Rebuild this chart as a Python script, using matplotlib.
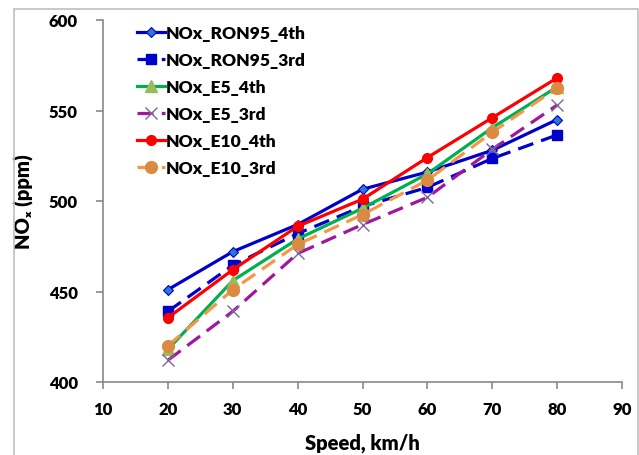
import matplotlib
matplotlib.use("Agg")
import matplotlib.pyplot as plt
from matplotlib.patches import Rectangle

# -----------------------------
# Data
# -----------------------------
speed = [20, 30, 40, 50, 60, 70, 80]
nox_ron95_4th = [451, 472, 487, 506.5, 516, 528, 545]
nox_ron95_3rd = [439, 464.5, 482, 497, 507.5, 523.5, 536.5]
nox_e5_4th = [418, 456, 479, 496, 515, 540.5, 563]
nox_e5_3rd = [412, 439, 471, 487, 502, 528.5, 553]
nox_e10_4th = [435.5, 462, 486, 501, 524, 546, 568]
nox_e10_3rd = [420, 451, 476, 492.5, 511.5, 538, 562.5]

plt.rcParams["font.family"] = ["Lato", "DejaVu Sans"]
W = "heavy"
plt.rcParams["font.weight"] = W

fig = plt.figure(figsize=(6.39, 4.56), dpi=100)
ax = fig.add_axes([103/639, 1 - 383/456, (622 - 103)/639, (383 - 21)/456])

# outer chart frame
fig.patches.append(Rectangle((14/639, -0.05), 624/639, 1.05 - 10/456, transform=fig.transFigure,
                             fill=False, edgecolor="#BFBFBF", lw=1.2))

lw = 2.3
dash = (0, (5, 2.6))
ax.plot(speed, nox_ron95_4th, color="#0000CC", lw=lw, marker="D", ms=5,
        mfc="#2E75D6", mec="#0000CC", mew=0.8, label="NOx_RON95_4th")
ax.plot(speed, nox_ron95_3rd, color="#0000CC", lw=lw, ls=dash, marker="s", ms=7,
        mfc="#0000CC", mec="#0000CC", label="NOx_RON95_3rd")
ax.plot(speed, nox_e5_4th, color="#00B050", lw=lw, marker="^", ms=8,
        mfc="#9BBB59", mec="#9BBB59", label="NOx_E5_4th")
ax.plot(speed, nox_e5_3rd, color="#A0179B", lw=lw, ls=dash, marker="x", ms=8,
        mec="#8064A2", mew=1.0, label="NOx_E5_3rd")
ax.plot(speed, nox_e10_4th, color="#FF0000", lw=lw, marker="o", ms=7,
        mfc="#FF0000", mec="#FF0000", label="NOx_E10_4th")
ax.plot(speed, nox_e10_3rd, color="#F79646", lw=lw, ls=dash, marker="o", ms=8.5,
        mfc="#DB8A42", mec="#DB8A42", label="NOx_E10_3rd")

ax.set_xlim(10, 90)
ax.set_ylim(400, 600)
ax.set_xticks(range(10, 91, 10))
ax.set_yticks(range(400, 601, 50))
for s in ["top", "right"]:
    ax.spines[s].set_visible(False)
for s in ["left", "bottom"]:
    ax.spines[s].set_color("#898989")
    ax.spines[s].set_linewidth(1.2)
ax.tick_params(colors="#898989", labelcolor="black", labelsize=12, length=5, width=1.2)
ax.tick_params(axis="y", pad=13)
ax.tick_params(axis="x", pad=9)
for t in ax.get_xticklabels() + ax.get_yticklabels():
    t.set_fontweight(W)

ax.set_xlabel("Speed, km/h", fontsize=14.5, fontweight=W, labelpad=11)
ax.set_ylabel("NOₓ (ppm)", fontsize=14.5, fontweight=W, labelpad=11)

leg = ax.legend(loc="upper left", bbox_to_anchor=(0.045, 1.015), frameon=False,
                prop={"weight": W, "size": 12.5}, handlelength=1.6,
                handletextpad=0.05, labelspacing=0.63, borderaxespad=0.2)

fig.savefig("out.png", dpi=100)
